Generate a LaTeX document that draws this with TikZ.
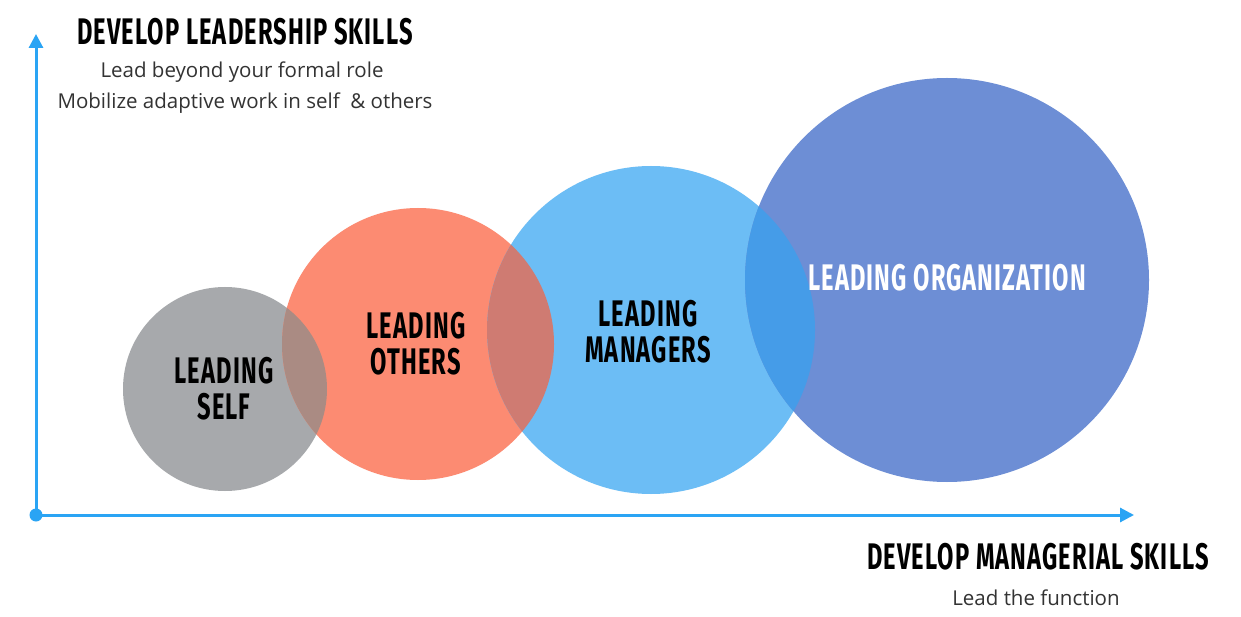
\documentclass[tikz,border=0pt]{standalone}
\usepackage{fontspec}
\setmainfont{Open Sans}
\newfontfamily\bebas[FakeStretch=0.64,LetterSpace=3]{Fira Sans}
\usetikzlibrary{arrows.meta}
\definecolor{axisblue}{HTML}{2AA4F4}
\definecolor{cgray}{HTML}{A7A9AC}
\definecolor{corange}{HTML}{FC8B72}
\definecolor{clblue}{HTML}{6CBDF5}
\definecolor{cdblue}{HTML}{6D8ED5}
\definecolor{ogo}{HTML}{AA8B83}
\definecolor{oob}{HTML}{CF7B72}
\definecolor{obd}{HTML}{459CE8}
\definecolor{txt}{HTML}{333333}
\tikzset{
  bubble/.style={circle, inner sep=0pt, draw=none},
  big/.style={font=\bebas\bfseries\fontsize{37}{36}\selectfont, align=center, text=black, inner sep=0pt},
  small/.style={font=\fontsize{20.5}{24}\selectfont, text=txt, inner sep=0pt},
  axis/.style={draw=axisblue, line width=3pt, -{Triangle[length=14pt,width=14pt]}}
}
\begin{document}
\begin{tikzpicture}[x=1pt,y=-1pt]
\useasboundingbox (0,0) rectangle (1241,617);
\fill[white] (0,0) rectangle (1241,617);
% circles
\node[bubble, fill=cgray, minimum size=204pt] (self) at (225,389) {};
\node[bubble, fill=corange, minimum size=272pt] (others) at (418,344) {};
\node[bubble, fill=clblue, minimum size=328pt] (managers) at (651,330) {};
\node[bubble, fill=cdblue, minimum size=404pt] (org) at (947,280) {};
% overlaps
\begin{scope}
  \clip (225,389) circle[radius=102pt];
  \fill[ogo] (418,344) circle[radius=136pt];
\end{scope}
\begin{scope}
  \clip (418,344) circle[radius=136pt];
  \fill[oob] (651,330) circle[radius=164pt];
\end{scope}
\begin{scope}
  \clip (651,330) circle[radius=164pt];
  \fill[obd] (947,280) circle[radius=202pt];
\end{scope}
% axes
\coordinate (origin) at (36,515);
\coordinate (ytip) at (36,34);
\coordinate (xtip) at (1134,515);
\draw[axis] (origin) -- (ytip);
\draw[axis] (origin) -- (xtip);
\fill[axisblue] (origin) circle[radius=6.5pt];
% labels in circles
\node[big] (tself) at (224,389) {LEADING\\SELF};
\node[big] (tothers) at (416,344) {LEADING\\OTHERS};
\node[big] (tmanagers) at (648,332) {LEADING\\MANAGERS};
\node[big, text=white] (torg) at (947,278) {LEADING ORGANIZATION};
% axis titles
\node[big] (lead) at (245,32) {DEVELOP LEADERSHIP SKILLS};
\node[small] (lead1) at (242,72) {Lead beyond your formal role};
\node[small] (lead2) at (245,103) {Mobilize adaptive work in self\ \ \& others};
\node[big] (man) at (1038,557) {DEVELOP MANAGERIAL SKILLS};
\node[small] (man1) at (1036,598) {Lead the function};
\end{tikzpicture}
\end{document}
